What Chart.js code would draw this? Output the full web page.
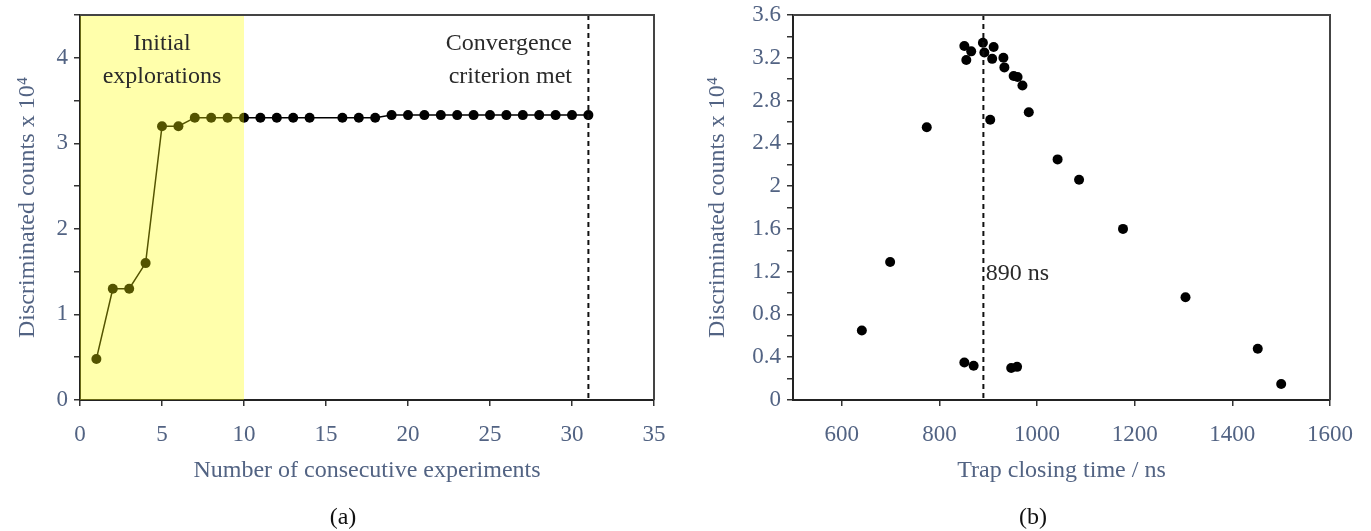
<!DOCTYPE html>
<html>
<head>
<meta charset="utf-8">
<script src="https://cdn.jsdelivr.net/npm/chart.js@4/dist/chart.umd.min.js"></script>
<style>
  body { margin: 0; background: #fff; width: 1371px; height: 531px; position: relative; overflow: hidden; }
  canvas { position: absolute; top: 0; }
  #left { left: 0; }
  #right { left: 690px; }
  .cap { position: absolute; top: 503px; font: 24px "Liberation Serif", serif; color: #111; transform: translateX(-50%); }
</style>
</head>
<body>
<canvas id="left" width="690" height="531"></canvas>
<canvas id="right" width="681" height="531"></canvas>
<div class="cap" style="left:343px">(a)</div>
<div class="cap" style="left:1033px">(b)</div>
<script>
// (a) counts after each experiment (experiment 15 not plotted)
const expNumber = [1, 2, 3, 4, 5, 6, 7, 8, 9, 10, 11, 12, 13, 14, 16, 17, 18,
                   19, 20, 21, 22, 23, 24, 25, 26, 27, 28, 29, 30, 31];
const expCounts = [0.48, 1.3, 1.3, 1.6, 3.2, 3.2, 3.3, 3.3, 3.3, 3.3, 3.3, 3.3, 3.3, 3.3, 3.3, 3.3, 3.3,
                   3.33, 3.33, 3.33, 3.33, 3.33, 3.33, 3.33, 3.33, 3.33, 3.33, 3.33, 3.33, 3.33];

// (b) counts against trap closing time
const trapTimes = [641, 699, 774, 851, 870, 851, 865, 855, 889, 892, 911, 908, 931, 933,
                   952, 960, 970, 904, 983, 947, 959, 1042, 1086, 1176, 1304, 1452, 1500];
const trapCounts = [0.65, 1.29, 2.55, 0.35, 0.32, 3.31, 3.26, 3.18, 3.34, 3.25, 3.30, 3.19, 3.20, 3.11,
                    3.03, 3.02, 2.94, 2.62, 2.69, 0.30, 0.31, 2.25, 2.06, 1.60, 0.96, 0.48, 0.15];

const xTicksA = [0, 5, 10, 15, 20, 25, 30, 35];
const xTicksB = [600, 800, 1000, 1200, 1400, 1600];

const SERIF = '"Liberation Serif", "Times New Roman", serif';
const LABEL = '#526383';

// band, dashed line, box and notes
const marks = {
    id: 'marks',
    afterDatasetsDraw(chart, args, opts) {
        const { ctx, chartArea: a, scales: { x, y } } = chart;
        ctx.save();
        if (opts.band) {
            ctx.fillStyle = 'rgba(255, 255, 0, 0.33)';
            const x0 = x.getPixelForValue(opts.band[0]);
            const x1 = x.getPixelForValue(opts.band[1]);
            ctx.fillRect(x0, a.top, x1 - x0, a.bottom - a.top);
        }
        if (opts.vline != null) {
            const vx = x.getPixelForValue(opts.vline);
            ctx.strokeStyle = '#111';
            ctx.lineWidth = 2;
            ctx.setLineDash([5, 4]);
            ctx.beginPath();
            ctx.moveTo(vx, a.top);
            ctx.lineTo(vx, a.bottom);
            ctx.stroke();
            ctx.setLineDash([]);
        }
        // top and right sides of the box
        ctx.strokeStyle = '#444';
        ctx.lineWidth = 2;
        ctx.beginPath();
        ctx.moveTo(a.left, a.top);
        ctx.lineTo(a.right, a.top);
        ctx.lineTo(a.right, a.bottom);
        ctx.stroke();

        ctx.fillStyle = '#2a2a2a';
        ctx.font = '24px ' + SERIF;
        ctx.textBaseline = 'middle';
        (opts.notes || []).forEach(n => {
            ctx.textAlign = n.align || 'center';
            ctx.fillText(n.text, x.getPixelForValue(n.x), y.getPixelForValue(n.y));
        });
        ctx.restore();
    }
};

function axisX(min, max, ticks, title) {
    return {
        type: 'linear', min: min, max: max,
        afterBuildTicks: s => { s.ticks = ticks.map(v => ({ value: v })); },
        afterFit: s => { s.height = 90; s.paddingLeft = 0; s.paddingRight = 0; },
        grid: { drawOnChartArea: false, tickLength: 6, color: '#333', lineWidth: 1.5 },
        border: { color: '#222', width: 2 },
        ticks: { color: LABEL, font: { family: SERIF, size: 23 }, padding: 15, autoSkip: false, maxRotation: 0,
                 callback: v => String(v) },
        title: { display: true, text: title, color: LABEL, font: { family: SERIF, size: 24 }, padding: { top: 0, bottom: 5 } }
    };
}

function axisY(max, step, width, every, fmt) {
    return {
        type: 'linear', min: 0, max: max,
        afterFit: s => { s.width = width; s.paddingTop = 0; s.paddingBottom = 0; },
        grid: { drawOnChartArea: false, tickLength: 6, color: '#333', lineWidth: 1.5 },
        border: { color: '#222', width: 2 },
        ticks: {
            stepSize: step, autoSkip: false, color: LABEL, padding: 6,
            font: { family: SERIF, size: 23, lineHeight: 1 },
            callback: v => (Math.round(v * 10) % every === 0 ? fmt(v) : '')
        },
        title: { display: true, text: 'Discriminated counts x 10\u2074', color: LABEL,
                 font: { family: SERIF, size: 24 }, padding: { top: 13, bottom: 0 } }
    };
}

new Chart(document.getElementById('left'), {
    type: 'line',
    data: {
        datasets: [{
            data: expNumber.map((n, i) => ({ x: n, y: expCounts[i] })),
            borderColor: '#000',
            borderWidth: 1.5,
            backgroundColor: '#000',
            pointRadius: 5,
            pointBorderWidth: 0,
            tension: 0
        }]
    },
    options: {
        responsive: false,
        animation: false,
        devicePixelRatio: 1,
        layout: { padding: { left: 0, top: 15, right: 36, bottom: 41 } },
        plugins: {
            legend: { display: false },
            tooltip: { enabled: false },
            marks: {
                band: [0, 10],
                vline: 31,
                notes: [
                    { x: 5, y: 4.17, text: 'Initial' },
                    { x: 5, y: 3.78, text: 'explorations' },
                    { x: 30, y: 4.17, text: 'Convergence', align: 'right' },
                    { x: 30, y: 3.78, text: 'criterion met', align: 'right' }
                ]
            }
        },
        scales: {
            x: axisX(0, 35, xTicksA, 'Number of consecutive experiments'),
            y: axisY(4.5, 0.5, 80, 10, v => String(v))
        }
    },
    plugins: [marks]
});

new Chart(document.getElementById('right'), {
    type: 'scatter',
    data: {
        datasets: [{
            data: trapTimes.map((t, i) => ({ x: t, y: trapCounts[i] })),
            backgroundColor: '#000',
            pointRadius: 5,
            pointBorderWidth: 0
        }]
    },
    options: {
        responsive: false,
        animation: false,
        devicePixelRatio: 1,
        layout: { padding: { left: 0, top: 15, right: 41, bottom: 41 } },
        plugins: {
            legend: { display: false },
            tooltip: { enabled: false },
            marks: {
                vline: 890,
                notes: [{ x: 895, y: 1.18, text: '890 ns', align: 'left' }]
            }
        },
        scales: {
            x: axisX(500, 1600, xTicksB, 'Trap closing time / ns'),
            y: axisY(3.6, 0.2, 103, 4, v => String(Number(v.toFixed(1))))
        }
    },
    plugins: [marks]
});
</script>
</body>
</html>
